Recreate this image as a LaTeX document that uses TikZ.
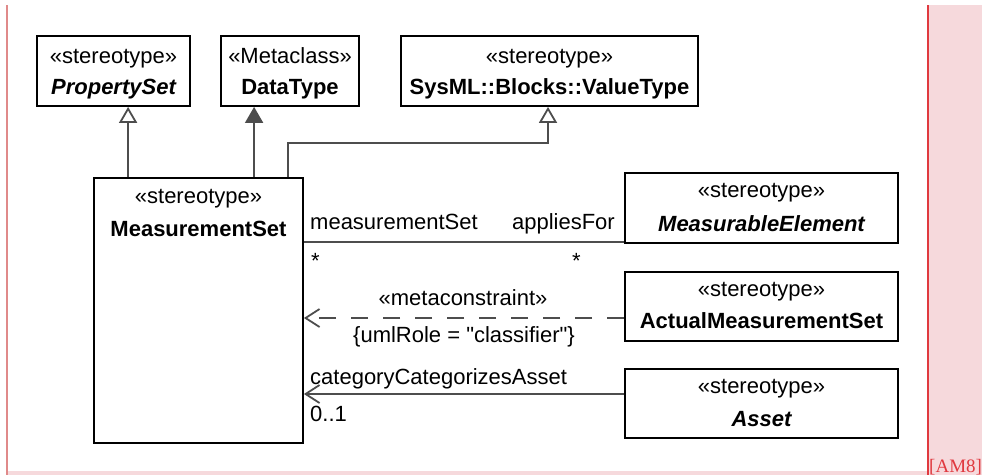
\documentclass[tikz,border=0pt]{standalone}
\usepackage{fontspec}
\setmainfont{Liberation Sans}[Ligatures=TeXOff]
\newfontfamily\amserif{Liberation Serif}
\usetikzlibrary{arrows.meta}
\definecolor{pinkbg}{HTML}{F6D9DC}
\definecolor{redline}{HTML}{E0393F}
\definecolor{leftline}{HTML}{E08A8A}
\definecolor{conncol}{HTML}{4D4D4D}
\begin{document}
\begin{tikzpicture}[x=1pt,y=-1pt,
  box/.style={draw=black, line width=1.8pt, fill=white, inner sep=0pt},
  lbl/.style={inner sep=0pt, font=\fontsize{22}{26}\selectfont, anchor=base},
  conn/.style={draw=conncol, line width=1.8pt},
  gen/.style={conn, -{Triangle[open, length=16pt, width=18pt, fill=white]}},
  genf/.style={conn, -{Triangle[length=16pt, width=18pt, fill=conncol]}},
  nav/.style={conn, -{Straight Barb[length=14pt, width=18pt]}},
  dep/.style={conn, dash pattern=on 17pt off 15pt, -{Straight Barb[length=14pt, width=18pt]}}
]
\useasboundingbox (0,0) rectangle (982,475);
% frame
\fill[pinkbg] (928,5) rectangle (982,475);
\fill[pinkbg] (7,471) rectangle (928,475);
\draw[redline, line width=1.6pt] (928,5) -- (928,475);
\draw[leftline, line width=1.6pt] (7,5) -- (7,475);
\node[lbl, anchor=base west, text=redline, font=\amserif\fontsize{19}{23}\selectfont] (am8) at (929,472) {[AM8]};

% boxes
\node[box, minimum width=153pt, minimum height=70pt] (ps) at (113.5,71) {};
\node[lbl] (psS) at (113.5,63) {«stereotype»};
\node[lbl] (psN) at (113.5,94) {\bfseries\itshape PropertySet};

\node[box, minimum width=138pt, minimum height=70pt] (dt) at (290,71) {};
\node[lbl] (dtS) at (290,63) {«Metaclass»};
\node[lbl] (dtN) at (290,94) {\bfseries DataType};

\node[box, minimum width=297pt, minimum height=70pt] (vt) at (549.5,71) {};
\node[lbl] (vtS) at (549.5,63) {«stereotype»};
\node[lbl] (vtN) at (549.5,94) {\bfseries SysML::Blocks::ValueType};

\node[box, minimum width=209pt, minimum height=265pt] (ms) at (198.5,310.5) {};
\node[lbl] (msS) at (198.5,203) {«stereotype»};
\node[lbl] (msN) at (198.5,236) {\bfseries MeasurementSet};

\node[box, minimum width=273pt, minimum height=70pt] (me) at (761.5,208) {};
\node[lbl] (meS) at (761.5,197) {«stereotype»};
\node[lbl] (meN) at (761.5,231) {\bfseries\itshape MeasurableElement};

\node[box, minimum width=273pt, minimum height=69pt] (am) at (761.5,306.5) {};
\node[lbl] (amS) at (761.5,296) {«stereotype»};
\node[lbl] (amN) at (761.5,328) {\bfseries ActualMeasurementSet};

\node[box, minimum width=273pt, minimum height=69pt] (as) at (761.5,403.5) {};
\node[lbl] (asS) at (761.5,393) {«stereotype»};
\node[lbl] (asN) at (761.5,426) {\bfseries\itshape Asset};

% generalizations
\draw[gen] ([xshift=35pt]ms.north west) -- ([xshift=35pt]ms.north west |- ps.south);
\draw[genf] ([xshift=161pt]ms.north west) -- ([xshift=161pt]ms.north west |- dt.south);
\draw[gen] ([xshift=195pt]ms.north west) -- ++(0,-34) -| ([xshift=-1.5pt]vt.south);

% association
\coordinate (a1) at ([yshift=2pt]me.south west);
\draw[conn] (a1) -- (a1 -| ms.east);
\node[lbl, anchor=base west] (mse) at (310,229) {measurementSet};
\node[lbl, anchor=base east] (apf) at (615,229) {appliesFor};
\node[lbl, anchor=base west] (m1) at (311,268) {*};
\node[lbl, anchor=base west] (m2) at (572,268) {*};

% dependency
\coordinate (d1) at ([yshift=-11.5pt]am.west);
\draw[dep] (d1) -- (d1 -| ms.east);
\node[lbl] (mc) at (463,305) {«metaconstraint»};
\node[lbl] (ur) at (464,342) {\{umlRole = "classifier"\}};

% navigable association to Asset
\coordinate (c1) at ([yshift=9.5pt]as.west);
\draw[nav] (c1) -- (c1 -| ms.east);
\node[lbl, anchor=base west] (cca) at (310,384) {categoryCategorizesAsset};
\node[lbl, anchor=base west] (zo) at (310,421) {0..1};
\end{tikzpicture}
\end{document}
